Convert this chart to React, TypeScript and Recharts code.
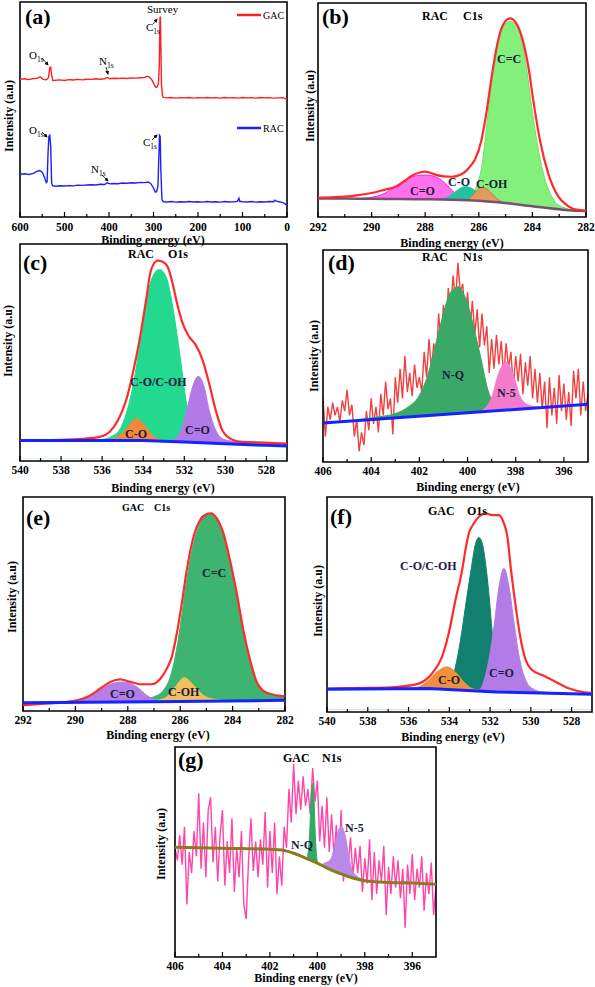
import React from 'react';
import { ComposedChart, Line, Area, XAxis, YAxis, ReferenceArea } from 'recharts';

const FONT = "'Liberation Serif', 'Times New Roman', serif";

// ---------- (a) survey ----------
const aGacX = [600,590,580,570,562,555,548,541,536,533,531,529,526,520,510,500,490,480,470,460,450,440,430,420,410,404,398,390,380,370,360,350,340,330,320,314,308,303,299,295,292,289,287,285.5,284.5,283.5,282,280,278,275,270,260,250,240,230,220,210,200,190,180,170,160,150,140,130,120,110,100,90,80,70,60,50,40,30,20,10,5,0];
const aGacY = [64.0,64.3,63.9,64.4,64.5,65.2,64.0,63.8,64.8,69.5,69.8,66.0,63.4,63.6,63.8,63.5,63.9,63.7,64.0,63.8,64.1,64.0,64.3,64.1,64.3,64.9,64.3,64.5,64.4,64.6,64.4,64.7,64.6,64.8,64.9,65.5,65.0,63.5,61.8,60.3,60.5,62.0,70.0,92.5,93.2,80.0,62.0,56.5,55.6,55.5,55.4,55.6,55.3,55.5,55.4,55.6,55.3,55.5,55.4,55.6,55.4,55.5,55.3,55.6,55.4,55.5,55.3,55.6,55.4,55.5,55.3,55.6,55.4,55.5,55.3,55.4,55.5,55.2,54.8];
const aRacX = [600,590,580,570,562,556,550,545,541,539,537,535,533,531,529,527,520,510,500,490,480,470,460,450,440,430,420,410,404,398,390,380,370,360,350,340,330,320,312,306,300,296,293,290,288,286.5,285,283.5,281,278,270,260,250,240,230,220,210,200,190,180,170,160,150,140,130,120,115,111,108,106,100,90,80,70,60,50,40,30,27,24,15,8,4,0];
const aRacY = [19.9,20.1,19.8,20.3,21.2,21.6,20.8,18.5,16.0,16.5,30.0,37.5,38.0,33.0,16.0,14.6,14.3,14.5,14.4,14.6,14.5,14.8,14.7,14.9,15.0,14.9,15.2,15.1,15.9,15.4,15.6,15.5,15.8,15.7,15.9,15.8,16.1,16.0,16.3,15.5,13.5,11.6,11.8,14.5,28.0,38.0,37.5,22.0,8.0,7.1,7.0,7.2,6.9,7.1,7.0,7.2,7.0,7.1,6.9,7.2,7.0,7.1,6.9,7.2,7.0,7.1,7.2,7.4,8.7,7.3,7.1,7.0,7.2,6.9,7.1,7.0,7.2,7.1,7.8,7.4,7.0,6.6,6.0,5.4];

// ---------- (b) RAC C1s ----------
const bRedX = [292,291.5,291,290.5,290,289.5,289.13,288.8,288.5,288.2,288,287.8,287.6,287.3,287,286.8,286.5,286.3,286.14,285.9,285.7,285.52,285.33,285.1,284.84,284.6,284.4,284.15,283.97,283.72,283.41,283.03,282.72,282.5,282];
const bRedY = [9.0,9.2,9.5,10.2,11.2,12.8,14.0,16.5,19.3,20.8,21.2,20.6,19.7,19.0,18.8,19.2,21.2,24.0,27.0,36.0,50.0,65.6,79.6,89.7,92.8,90.5,84.3,70.2,54.7,36.0,20.4,9.5,5.6,4.0,3.0];
const bBaseX = [292,291,290,289,288,287,286,285,284,283,282.5,282];
const bBaseY = [8.7,8.6,8.5,8.4,8.3,8.1,7.6,6.5,5.0,3.6,3.0,2.8];
const bGreenX = [287.2,286.6,286.39,286.08,285.89,285.64,285.4,285.15,284.84,284.59,284.4,284.21,284.03,283.84,283.59,283.28,282.91,282.41,282];
const bGreenY = [8.1,8.2,9.0,14.2,23.5,50.0,73.4,87.4,91.3,89.7,82.7,68.7,51.6,36.0,20.4,9.5,4.8,3.3,3.0];
const bMagX = [290.4,290.12,289.5,289.13,288.75,288.38,288.0,287.63,287.32,287.01,286.76,286.51,286.2];
const bMagY = [8.6,9.0,11.1,14.2,17.3,19.2,19.6,18.8,16.5,12.6,9.5,8.0,7.8];
const bTealX = [287.51,287.14,286.82,286.51,286.2,285.96,285.64];
const bTealY = [8.1,9.5,12.3,14.2,12.9,10.3,7.5];
const bOrgX = [286.39,286.14,285.89,285.64,285.4,285.15];
const bOrgY = [8.0,11.4,13.9,12.5,9.5,7.0];

// ---------- (c) RAC O1s ----------
const cRedX = [540,539,538,537,536.12,535.64,535.23,534.83,534.51,534.18,533.86,533.62,533.3,533.05,532.81,532.57,532.33,532.08,531.76,531.44,531.11,530.79,530.47,530.15,529.66,529.18,528.05,527];
const cRedY = [9.5,9.6,9.8,10.2,11.1,13.4,18.8,28.0,40.3,55.7,74.2,88.0,92.3,91.8,89.5,81.8,71.8,63.4,57.2,53.4,46.5,35.7,23.4,14.2,9.8,8.8,8.5,8.0];
const cGreenX = [540,537,536.12,535.31,534.83,534.51,534.18,533.86,533.54,533.21,532.89,532.65,532.41,532.16,531.92,531.68,531.44,531.11,530,527];
const cGreenY = [9.6,9.6,9.8,12.6,21.8,34.0,52.6,72.6,85.0,88.3,85.0,75.7,61.8,45.0,28.0,15.7,11.0,9.5,8.6,8.0];
const cOrgX = [535.64,535.15,534.75,534.35,533.94,533.54,533.05];
const cOrgY = [9.8,11.8,15.7,19.5,16.5,11.8,9.5];
const cPurX = [532.57,532.16,531.84,531.6,531.32,531.03,530.79,530.47,530.15,529.66,529.2];
const cPurY = [9.5,14.2,24.9,34.0,39.0,34.0,23.4,14.2,10.3,9.1,8.6];
const cBaseX = [540,534,532,530,528,527];
const cBaseY = [9.5,9.5,8.8,7.9,7.2,6.9];

// ---------- shared energy grid for N1s spectra ----------
const nE = [406,405.9,405.8,405.7,405.6,405.5,405.4,405.3,405.2,405.1,
  405,404.9,404.8,404.7,404.6,404.5,404.4,404.3,404.2,404.1,
  404,403.9,403.8,403.7,403.6,403.5,403.4,403.3,403.2,403.1,
  403,402.9,402.8,402.7,402.6,402.5,402.4,402.3,402.2,402.1,
  402,401.9,401.8,401.7,401.6,401.5,401.4,401.3,401.2,401.1,
  401,400.9,400.8,400.7,400.6,400.5,400.4,400.3,400.2,400.1,
  400,399.9,399.8,399.7,399.6,399.5,399.4,399.3,399.2,399.1,
  399,398.9,398.8,398.7,398.6,398.5,398.4,398.3,398.2,398.1,
  398,397.9,397.8,397.7,397.6,397.5,397.4,397.3,397.2,397.1,
  397,396.9,396.8,396.7,396.6,396.5,396.4,396.3,396.2,396.1,
  396,395.9,395.8,395.7,395.6,395.5,395.4,395.3,395.2,395.1,
  395];

// ---------- (d) RAC N1s ----------
const dRedY = [30,12,26,20,28,22,26,19,29,24,
  34,22,27,12,20,5,14,8,24,15,
  30,18,26,14,32,22,38,25,30,13,
  40,28,44,30,50,33,42,31,46,35,
  40,33,52,40,58,44,56,47,70,55,
  74,60,82,70,88,76,94,80,84,68,
  80,62,76,60,72,54,70,55,64,42,
  58,44,60,46,57,40,56,44,52,35,
  50,38,51,32,47,36,50,30,44,28,
  42,25,38,16,40,22,35,18,41,24,
  37,20,33,17,43,30,44,22,38,24,
  32];
const dBaseX = [406,395];
const dBaseY = [18.4,27.2];
const dNqX = [405,404.5,403.71,403.01,402.46,402.04,401.63,401.35,401.07,400.79,400.51,400.37,400.24,399.96,399.68,399.4,399.19,398.99,398.71,398.29];
const dNqTop = [19.2,20.0,21.3,22.8,26,30.7,41.7,54.3,67,78,82.2,82.7,81,73.2,60.6,46.5,35.4,29.1,26,24.8];
const dNqBase = [19.2,19.6,20.2,20.8,21.2,21.6,21.9,22.1,22.3,22.6,22.8,22.9,23.0,23.2,23.5,23.7,23.9,24.0,24.2,24.6];
const dN5X = [399.4,398.99,398.71,398.4,398.08,397.81,397.46,397.04];
const dN5Top = [24.2,30.7,41.7,47.2,40.2,30.7,26.8,26.0];
const dN5Base = [23.7,24.0,24.2,24.5,24.7,25.0,25.2,25.6];

// ---------- (e) GAC C1s ----------
const eRedX = [292,291,290.32,289.43,289.05,288.67,288.29,287.91,287.53,287.08,286.76,286.51,286.32,286.13,285.94,285.75,285.49,285.24,284.99,284.83,284.6,284.35,284.1,283.84,283.59,283.33,283.08,282.83,282.44,282];
const eRedY = [2.7,3.5,4.2,7.3,10.5,13.6,14.8,13.6,12.5,12.5,15.1,19.8,25.3,36.2,50.2,65.8,81.4,89.2,92.0,92.4,90.0,83.0,70.5,54.9,37.8,23.7,13.6,9.4,7.6,6.9];
const eGreenX = [288,287.02,286.64,286.38,286.19,286.0,285.75,285.49,285.24,284.99,284.83,284.6,284.35,284.1,283.84,283.59,283.33,283.08,282.83,282.44,282];
const eGreenY = [4.4,6.6,9.7,15.9,25.3,39.3,61.2,78.3,87.7,91.6,92.0,89.5,82.5,70.0,54.5,37.4,23.4,13.3,9.2,7.4,6.8];
const ePurX = [290.32,289.69,289.18,288.67,288.16,287.65,287.27,286.89,286.51];
const ePurY = [4.5,5.8,8.9,12.5,13.6,11.2,7.3,5.0,4.5];
const eOrgX = [286.89,286.51,286.19,285.84,285.49,285.11,284.73,284.35];
const eOrgY = [5.0,6.6,11.2,15.6,12.0,7.3,5.5,5.0];
const eBaseX = [292,287,282];
const eBaseY = [3.9,4.3,5.0];

// ---------- (f) GAC O1s ----------
const fRedX = [540,538,536.66,535.51,534.85,534.36,534.03,533.7,533.37,533.21,533.04,532.8,532.55,532.22,531.89,531.56,531.32,531.15,530.99,530.74,530.49,530.25,529.92,529.42,528.77,528.11,527.45,527];
const fRedY = [10.9,11.2,11.6,13.2,17.9,25.6,36.5,52.0,66.0,75.3,83.1,87.7,90.8,92.4,91.6,91.6,87.7,81.5,67.5,48.9,33.4,24.1,19.4,17.1,14.0,10.9,9.3,8.9];
const fTealX = [540,537,535,534.36,534.03,533.7,533.45,533.21,532.96,532.71,532.55,532.38,532.22,532.06,531.89,531.73,531.56,531.32,530.9,527];
const fTealY = [11.0,10.8,10.0,10.5,11.6,21.0,33.4,48.9,64.4,78.4,81.2,78.4,69.1,55.1,36.5,21.0,11.6,8.5,8.4,8.0];
const fPurX = [532.71,532.38,532.06,531.81,531.56,531.32,531.07,530.82,530.57,530.25,529.92,529.42,528.44];
const fPurY = [8.5,12.4,24.1,39.6,58.2,66.8,58.2,41.1,25.6,14.8,10.9,9.3,8.9];
const fOrgX = [535.8,535.35,535.02,534.61,534.11,533.7,533.29,532.88,532.38];
const fOrgY = [11.0,12.4,14.8,18.6,21.0,18.6,14.0,10.9,10.1];
const fBaseX = [540,535,531.7,527];
const fBaseY = [10.6,10.9,9.3,8.2];

// ---------- (g) GAC N1s ----------
const gNoiseY = [52,46,58,44,62,25,50,40,60,48,
  78,42,64,38,70,76,45,62,36,58,
  70,34,55,40,66,31,52,38,60,25,
  18,46,66,41,55,38,56,44,69,33,
  60,40,64,30,48,34,62,52,80,64,
  92,68,84,70,86,72,80,68,90,74,
  84,55,72,52,76,50,68,48,63,40,
  70,36,55,44,57,38,52,40,53,31,
  47,35,56,27,50,30,46,36,53,20,
  43,30,48,33,46,28,42,14,44,30,
  49,27,42,33,48,22,40,30,45,20,
  34];
const gBaseX = [406,404,402,401.5,401,400.5,400,399.5,399,398.5,398,397,396,395];
const gBaseY = [52.3,51.8,51.3,51.0,49.4,47.1,44.7,41.8,39.6,37.6,36.3,35.5,35.2,34.7];
const gNqX = [400.42,400.32,400.26,400.2,400.14,400.08,400.0];
const gNqTop = [46.7,60,76,82.7,74,56,44.7];
const gNqBase = [46.7,46.2,45.9,45.6,45.4,45.1,44.7];
const gN5X = [399.85,399.73,399.45,399.24,399.1,398.99,398.82,398.68,398.54,398.32,398.04,397.8];
const gN5Top = [43.8,44.5,46.3,54.2,60.5,62.1,57.4,47.9,41.5,38.4,36.8,36.1];
const gN5Base = [43.8,43.1,41.6,40.7,40.1,39.6,38.9,38.4,37.8,37.1,36.4,36.1];

// ---------- axis ticks ----------
const xMajA = [600,500,400,300,200,100,0];
const xMinA = [550,450,350,250,150,50];
const xMajC1 = [292,290,288,286,284,282];
const xMinC1 = [291,289,287,285,283];
const xMajO1 = [540,538,536,534,532,530,528];
const xMinO1 = [539,537,535,533,531,529];
const xMajN1 = [406,404,402,400,398,396];
const xMinN1 = [405,403,401,399,397];

const yA = [5.4,17.8,30.2,42.6,55,67.4,79.8,92.2];
const yB = [15.7,32.1,47.7,64,80.4,96.5];
const yBm = [7.5,23.9,39.9,55.9,72.2,88.4];
const yC = [28.3,46.5,64.9,83.4];
const yCm = [10,19.2,37.4,55.7,74.1,92.5];
const yD = [13.4,27.6,40.9,55.1,68.5,82.7];
const yDm = [6.3,20.5,34.2,48,61.8,75.6,89.8];
const yE = [8.1,23.2,38.5,53.8,69,84.6];
const yEm = [15.6,30.8,46.1,61.4,76.8,92.4];
const yF = [5.9,21.7,37.6,53.3,68.8,84.6];
const yFm = [13.8,29.6,45.4,61,76.7,92.5];
const yG = [4.3,16.2,28.1,39.9,51.8,63.7,75.6,87.5];

type Ser =
  | { kind: 'line'; xs: number[]; ys: number[]; color: string; width: number; curve?: string }
  | { kind: 'noise'; xs: number[]; ys: number[]; color: string; width: number }
  | { kind: 'area'; xs: number[]; ys: number[]; color: string; stroke?: string }
  | { kind: 'range'; xs: number[]; lo: number[]; hi: number[]; color: string }
  | { kind: 'mask'; xs: number[]; ys: number[] };

const toPts = (xs: number[], ys: number[]) => xs.map((x, i) => ({ x, y: ys[i] }));
const toRange = (xs: number[], lo: number[], hi: number[]) => xs.map((x, i) => ({ x, r: [lo[i], hi[i]] }));

function renderSeries(s: Ser, i: number) {
  if (s.kind === 'line') {
    return (
      <Line key={i} data={toPts(s.xs, s.ys)} dataKey="y" type={(s.curve || 'monotone') as any}
        stroke={s.color} strokeWidth={s.width} dot={false} activeDot={false} isAnimationActive={false} />
    );
  }
  if (s.kind === 'noise') {
    return (
      <Area key={i} data={toPts(s.xs, s.ys)} dataKey="y" type="linear" baseValue={1}
        stroke={s.color} strokeWidth={s.width} fill="none" fillOpacity={0} dot={false} activeDot={false} isAnimationActive={false} />
    );
  }
  if (s.kind === 'area') {
    return (
      <Area key={i} data={toPts(s.xs, s.ys)} dataKey="y" type="monotone" baseValue={1}
        stroke={s.stroke || s.color} strokeWidth={1} fill={s.color} fillOpacity={1} dot={false} activeDot={false} isAnimationActive={false} />
    );
  }
  if (s.kind === 'range') {
    return (
      <Area key={i} data={toRange(s.xs, s.lo, s.hi)} dataKey="r" type="monotone"
        stroke={s.color} strokeWidth={1} fill={s.color} fillOpacity={1} dot={false} activeDot={false} isAnimationActive={false} />
    );
  }
  return (
    <Area key={i} data={toPts(s.xs, s.ys)} dataKey="y" type="monotone" baseValue={1}
      stroke="none" fill="#ffffff" fillOpacity={1} dot={false} activeDot={false} isAnimationActive={false} />
  );
}

type Box = { x: number; y: number; w: number; h: number };

function Panel(props: {
  box: Box; domain: [number, number]; xMajor: number[]; xMinor: number[];
  yMajor: number[]; yMinor: number[]; series: Ser[]; lblDy?: number;
}) {
  const { box, domain, xMajor, xMinor, yMajor, yMinor, series } = props;
  const lblDy = props.lblDy || 13;
  const ML = 12, MR = 12, MT = 6, XH = 28;
  const xTicks = [...xMajor, ...xMinor].sort((a, b) => a - b);
  const yTicks = [...yMajor, ...yMinor].sort((a, b) => a - b);
  const XTick = (p: any) => {
    const v = p.payload.value;
    const major = xMajor.includes(v);
    return (
      <g>
        <line x1={p.x} x2={p.x} y1={p.y} y2={p.y - (major ? 5 : 3)} stroke="#000" strokeWidth={1.2} />
        {major && (
          <text x={p.x} y={p.y + lblDy} textAnchor="middle" fontFamily={FONT} fontWeight="bold" fontSize={11.5} fill="#000">{v}</text>
        )}
      </g>
    );
  };
  const YTick = (p: any) => {
    const v = p.payload.value;
    const major = yMajor.includes(v);
    return <line x1={p.x} x2={p.x + (major ? 5 : 3)} y1={p.y} y2={p.y} stroke="#000" strokeWidth={1.2} />;
  };
  return (
    <div style={{ position: 'absolute', left: box.x - ML, top: box.y - MT }}>
      <ComposedChart width={box.w + ML + MR} height={box.h + MT + XH}
        margin={{ top: MT, right: MR, left: ML, bottom: 0 }}>
        {series.map((s, i) => renderSeries(s, i))}
        <XAxis type="number" dataKey="x" domain={domain} reversed allowDataOverflow ticks={xTicks}
          interval={0} tick={XTick} tickLine={false} axisLine={false} tickSize={0} tickMargin={0} height={XH} />
        <YAxis type="number" domain={[0, 100]} allowDataOverflow ticks={yTicks} interval={0}
          tick={YTick} tickLine={false} axisLine={false} tickSize={0} tickMargin={0} width={0} />
        <ReferenceArea x1={domain[0]} x2={domain[1]} y1={0} y2={100} fill="none" fillOpacity={0}
          stroke="#000" strokeWidth={1.6} ifOverflow="visible" />
      </ComposedChart>
    </div>
  );
}

const RED = '#ff2a2a';
const BLUE = '#1424ff';

const serA: Ser[] = [
  { kind: 'line', xs: aGacX, ys: aGacY, color: '#ff1f1f', width: 1.4, curve: 'linear' },
  { kind: 'line', xs: aRacX, ys: aRacY, color: '#1f1fff', width: 1.4, curve: 'linear' },
];
const serB: Ser[] = [
  { kind: 'area', xs: bGreenX, ys: bGreenY, color: '#84f07c', stroke: '#70e068' },
  { kind: 'area', xs: bMagX, ys: bMagY, color: '#ff70ef', stroke: '#ff20e6' },
  { kind: 'area', xs: bTealX, ys: bTealY, color: '#22c4a0' },
  { kind: 'area', xs: bOrgX, ys: bOrgY, color: '#e49a5a', stroke: '#c8783a' },
  { kind: 'mask', xs: bBaseX, ys: bBaseY },
  { kind: 'line', xs: bBaseX, ys: bBaseY, color: '#7a5070', width: 2.5 },
  { kind: 'line', xs: bRedX, ys: bRedY, color: RED, width: 2.2 },
];
const serC: Ser[] = [
  { kind: 'area', xs: cGreenX, ys: cGreenY, color: '#22d98f' },
  { kind: 'area', xs: cOrgX, ys: cOrgY, color: '#f3883c' },
  { kind: 'area', xs: cPurX, ys: cPurY, color: '#b27ae6' },
  { kind: 'mask', xs: cBaseX, ys: cBaseY },
  { kind: 'line', xs: cRedX, ys: cRedY, color: RED, width: 2.2 },
  { kind: 'line', xs: cBaseX, ys: cBaseY, color: BLUE, width: 3, curve: 'linear' },
];
const serD: Ser[] = [
  { kind: 'noise', xs: nE, ys: dRedY, color: '#f24040', width: 1.4 },
  { kind: 'range', xs: dNqX, lo: dNqBase, hi: dNqTop, color: '#3aa866' },
  { kind: 'range', xs: dN5X, lo: dN5Base, hi: dN5Top, color: '#f47ccf' },
  { kind: 'line', xs: dBaseX, ys: dBaseY, color: BLUE, width: 3, curve: 'linear' },
];
const serE: Ser[] = [
  { kind: 'area', xs: eGreenX, ys: eGreenY, color: '#3db470' },
  { kind: 'area', xs: ePurX, ys: ePurY, color: '#b57ee6' },
  { kind: 'area', xs: eOrgX, ys: eOrgY, color: '#f2bf5e' },
  { kind: 'mask', xs: eBaseX, ys: eBaseY },
  { kind: 'line', xs: eRedX, ys: eRedY, color: RED, width: 2.2 },
  { kind: 'line', xs: eBaseX, ys: eBaseY, color: BLUE, width: 3, curve: 'linear' },
];
const serF: Ser[] = [
  { kind: 'area', xs: fTealX, ys: fTealY, color: '#12806e' },
  { kind: 'area', xs: fOrgX, ys: fOrgY, color: '#f0903c' },
  { kind: 'area', xs: fPurX, ys: fPurY, color: '#b27ce6' },
  { kind: 'mask', xs: fBaseX, ys: fBaseY },
  { kind: 'line', xs: fRedX, ys: fRedY, color: RED, width: 2.2 },
  { kind: 'line', xs: fBaseX, ys: fBaseY, color: BLUE, width: 3, curve: 'linear' },
];
const serG: Ser[] = [
  { kind: 'noise', xs: nE, ys: gNoiseY, color: '#ff45a8', width: 1.4 },
  { kind: 'range', xs: gNqX, lo: gNqBase, hi: gNqTop, color: '#2eaa62' },
  { kind: 'range', xs: gN5X, lo: gN5Base, hi: gN5Top, color: '#b98ae8' },
  { kind: 'line', xs: gBaseX, ys: gBaseY, color: '#8a7b20', width: 3 },
];

const T = (p: { x: number; y: number; s?: number; w?: string; c?: string; a?: string; children: any }) => (
  <text x={p.x} y={p.y} fontSize={p.s || 12} fontWeight={p.w || 'bold'} fill={p.c || '#000'}
    textAnchor={(p.a || 'start') as any}>{p.children}</text>
);
const Sub = (p: { x: number; y: number; m: string; s: string }) => (
  <text x={p.x} y={p.y} fontSize={11} fill="#000">{p.m}<tspan fontSize={7.5} dy={3}>{p.s}</tspan></text>
);
const YL = (p: { x: number; y: number }) => (
  <text transform={`translate(${p.x},${p.y}) rotate(-90)`} textAnchor="middle" dominantBaseline="central"
    fontSize={12} fontWeight="bold" fill="#000">Intensity (a.u)</text>
);
const XL = (p: { x: number; y: number }) => (
  <text x={p.x} y={p.y} textAnchor="middle" dominantBaseline="central" fontSize={12} fontWeight="bold" fill="#000">Binding energy (eV)</text>
);
const Arr = (p: { x1: number; y1: number; x2: number; y2: number }) => (
  <line x1={p.x1} y1={p.y1} x2={p.x2} y2={p.y2} stroke="#000" strokeWidth={0.8} markerEnd="url(#arrowHead)" />
);

const LBL = '#1a1a40';

export default function App() {
  return (
    <div style={{ position: 'absolute', left: 0, top: 0, width: 595, height: 987, background: '#fff', overflow: 'hidden' }}>
      <Panel box={{ x: 20, y: 2, w: 267, h: 215 }} domain={[0, 600]} xMajor={xMajA} xMinor={xMinA} yMajor={yA} yMinor={[]} series={serA} lblDy={14} />
      <Panel box={{ x: 318, y: 3, w: 268, h: 214 }} domain={[282, 292]} xMajor={xMajC1} xMinor={xMinC1} yMajor={yB} yMinor={yBm} series={serB} lblDy={14} />
      <Panel box={{ x: 20, y: 244, w: 267, h: 217 }} domain={[527, 540]} xMajor={xMajO1} xMinor={xMinO1} yMajor={yC} yMinor={yCm} series={serC} />
      <Panel box={{ x: 323, y: 250, w: 265, h: 212 }} domain={[395, 406]} xMajor={xMajN1} xMinor={xMinN1} yMajor={yD} yMinor={yDm} series={serD} />
      <Panel box={{ x: 23, y: 497, w: 262, h: 214 }} domain={[282, 292]} xMajor={xMajC1} xMinor={xMinC1} yMajor={yE} yMinor={yEm} series={serE} />
      <Panel box={{ x: 327, y: 497, w: 265, h: 215 }} domain={[527, 540]} xMajor={xMajO1} xMinor={xMinO1} yMajor={yF} yMinor={yFm} series={serF} />
      <Panel box={{ x: 175, y: 747, w: 261, h: 210 }} domain={[395, 406]} xMajor={xMajN1} xMinor={xMinN1} yMajor={yG} yMinor={[]} series={serG} />

      <svg width={595} height={987} style={{ position: 'absolute', left: 0, top: 0, pointerEvents: 'none' }} fontFamily={FONT}>
        <defs>
          <marker id="arrowHead" markerWidth="5" markerHeight="5" refX="4" refY="2.5" orient="auto">
            <path d="M0,0 L5,2.5 L0,5 Z" fill="#000" />
          </marker>
        </defs>

        {/* (a) */}
        <T x={25} y={24} s={22}>(a)</T>
        <T x={147} y={13} s={11} w="normal">Survey</T>
        <Sub x={146} y={31} m="C" s="1s" />
        <Arr x1={153} y1={24} x2={157} y2={19} />
        <Sub x={29} y={59} m="O" s="1s" />
        <Arr x1={42} y1={58} x2={48} y2={65} />
        <Sub x={99} y={65} m="N" s="1s" />
        <Arr x1={106} y1={67} x2={108} y2={74} />
        <line x1={237} y1={15} x2={261} y2={15} stroke="#ff1f1f" strokeWidth={2.5} />
        <T x={263} y={19} s={10} w="normal">GAC</T>
        <line x1={237} y1={128} x2={261} y2={128} stroke="#1f1fff" strokeWidth={2.5} />
        <T x={263} y={132} s={10} w="normal">RAC</T>
        <Sub x={29} y={134} m="O" s="1s" />
        <Arr x1={42} y1={132} x2={47} y2={137} />
        <Sub x={91} y={173} m="N" s="1s" />
        <Arr x1={102} y1={175} x2={108} y2={181} />
        <Sub x={143} y={146} m="C" s="1s" />
        <Arr x1={152} y1={140} x2={157} y2={135} />
        <YL x={9} y={116} />
        <XL x={153} y={240} />

        {/* (b) */}
        <T x={322} y={24} s={22}>(b)</T>
        <T x={422} y={20}>RAC</T>
        <T x={463} y={20}>C1s</T>
        <T x={497} y={63} c={LBL}>C=C</T>
        <T x={410} y={195} c={LBL}>C=O</T>
        <T x={448} y={186} c={LBL}>C-O</T>
        <T x={476} y={188} c={LBL}>C-OH</T>
        <YL x={310} y={106} />
        <XL x={452} y={243} />

        {/* (c) */}
        <T x={23} y={270} s={22}>(c)</T>
        <T x={128} y={258}>RAC</T>
        <T x={168} y={258}>O1s</T>
        <T x={130} y={386} c={LBL}>C-O/C-OH</T>
        <T x={125} y={438} c={LBL}>C-O</T>
        <T x={185} y={434} c={LBL}>C=O</T>
        <YL x={8} y={341} />
        <XL x={163} y={488} />

        {/* (d) */}
        <T x={328} y={270} s={22}>(d)</T>
        <T x={422} y={261}>RAC</T>
        <T x={463} y={261}>N1s</T>
        <T x={442} y={379} c={LBL}>N-Q</T>
        <T x={497} y={397} c={LBL}>N-5</T>
        <YL x={314} y={356} />
        <XL x={468} y={487} />

        {/* (e) */}
        <T x={26} y={525} s={22}>(e)</T>
        <T x={122} y={511} s={10}>GAC</T>
        <T x={154} y={511} s={10}>C1s</T>
        <T x={202} y={577} c={LBL}>C=C</T>
        <T x={110} y={698} c={LBL}>C=O</T>
        <T x={168} y={696} c={LBL}>C-OH</T>
        <YL x={12} y={597} />
        <XL x={158} y={735} />

        {/* (f) */}
        <T x={330} y={524} s={22}>(f)</T>
        <T x={428} y={515}>GAC</T>
        <T x={467} y={515}>O1s</T>
        <T x={400} y={570} c={LBL}>C-O/C-OH</T>
        <T x={438} y={684} c={LBL}>C-O</T>
        <T x={489} y={677} c={LBL}>C=O</T>
        <YL x={318} y={601} />
        <XL x={453} y={737} />

        {/* (g) */}
        <T x={178} y={767} s={22}>(g)</T>
        <T x={283} y={762}>GAC</T>
        <T x={322} y={762}>N1s</T>
        <T x={291} y={849} c={LBL}>N-Q</T>
        <T x={345} y={832} c={LBL}>N-5</T>
        <YL x={161} y={844} />
        <XL x={306} y={978} />
      </svg>
    </div>
  );
}
